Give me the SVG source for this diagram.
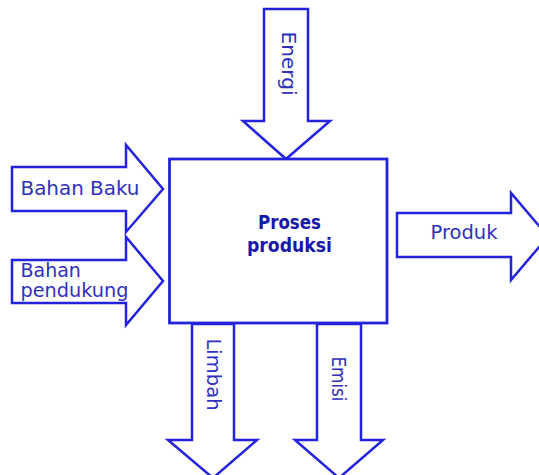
<svg xmlns="http://www.w3.org/2000/svg" width="539" height="475" viewBox="0 0 539 475">
<style>
.arrow{fill:#ffffff;stroke:#2323dd;stroke-width:2.5;stroke-linejoin:miter}
.box{fill:#ffffff;stroke:#2323dd;stroke-width:2.8}
.lbl{font-family:"DejaVu Sans","Liberation Sans",sans-serif;font-size:19px;fill:#3030bb}
.ctr{font-family:"DejaVu Sans","Liberation Sans",sans-serif;font-size:20px;font-weight:bold;fill:#1818a8;text-anchor:middle}
</style>
<rect width="539" height="475" fill="#ffffff"/>
<g id="connectors">
<g id="arrow-energi">
<polygon class="arrow" points="264,9 308,9 308,121 330,121 286,159 243,121 264,121"/>
<text class="lbl" transform="translate(282,31.5) rotate(90)" textLength="64" lengthAdjust="spacingAndGlyphs">Energi</text>
</g>
<g id="arrow-bahan-baku">
<polygon class="arrow" points="12,167 126,167 126,145 163,189 126,232 126,211 12,211"/>
<text class="lbl" x="20.5" y="194.5" textLength="119" lengthAdjust="spacingAndGlyphs">Bahan Baku</text>
</g>
<g id="arrow-bahan-pendukung">
<polygon class="arrow" points="12,260 126,260 126,237 163,281 126,325 126,303 12,303"/>
<text class="lbl" x="20.5" y="277">Bahan</text>
<text class="lbl" x="20.5" y="297" textLength="108" lengthAdjust="spacingAndGlyphs">pendukung</text>
</g>
<g id="arrow-produk">
<polygon class="arrow" points="397,213 511,213 511,193 548,236.5 511,280 511,257 397,257"/>
<text class="lbl" x="430.5" y="239" textLength="67" lengthAdjust="spacingAndGlyphs">Produk</text>
</g>
<g id="arrow-limbah">
<polygon class="arrow" points="192,324 234,324 234,440 257,440 213,478 168,440 192,440"/>
<text class="lbl" transform="translate(206.5,338.5) rotate(90)" textLength="72" lengthAdjust="spacingAndGlyphs">Limbah</text>
</g>
<g id="arrow-emisi">
<polygon class="arrow" points="317,324 361,324 361,440 383,440 339,478 295,440 317,440"/>
<text class="lbl" transform="translate(332,356.5) rotate(90)" textLength="45" lengthAdjust="spacingAndGlyphs">Emisi</text>
</g>
</g>
<g id="proses-produksi">
<rect class="box" x="169.5" y="159" width="217.5" height="164"/>
<text class="ctr" x="289.5" y="229" textLength="63" lengthAdjust="spacingAndGlyphs">Proses</text>
<text class="ctr" x="289.5" y="251.5" textLength="85" lengthAdjust="spacingAndGlyphs">produksi</text>
</g>
</svg>
